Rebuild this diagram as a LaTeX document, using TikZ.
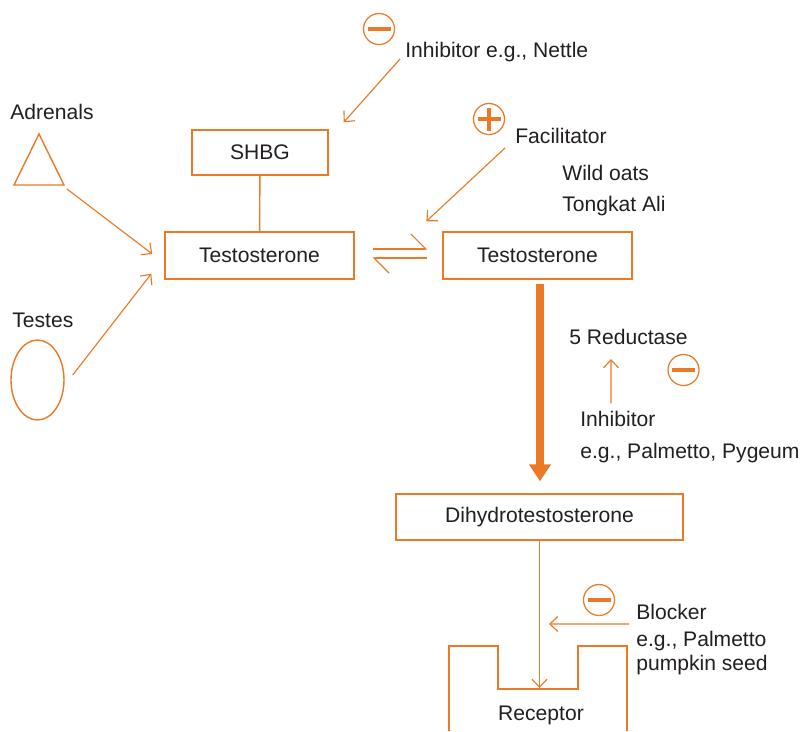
\documentclass[tikz,border=0pt]{standalone}
\usepackage{fontspec}
\setmainfont{Liberation Sans}
\usepackage{tikz}
\usetikzlibrary{arrows.meta,shapes.geometric}
\definecolor{orng}{RGB}{236,121,38}
\definecolor{ink}{RGB}{35,31,32}
\tikzset{
  hbox/.style = {rectangle, draw=orng, line width=0.8pt, text=ink,
    inner sep=0pt, minimum height=0.92cm},% hormone box
  lbl/.style = {anchor=base west, inner sep=0pt, text=ink},% plain label
  sgn/.style = {circle, draw=orng, line width=0.7pt, minimum size=0.62cm,
    inner sep=0pt},% sign circle
  sgn_m/.style = {sgn, path picture={
    \draw[orng, line width=0.08cm]
      ([xshift=-0.23cm]path picture bounding box.center) --
      ([xshift=0.23cm]path picture bounding box.center);}},% minus
  sgn_p/.style = {sgn, path picture={
    \draw[orng, line width=0.08cm]
      ([xshift=-0.23cm]path picture bounding box.center) --
      ([xshift=0.23cm]path picture bounding box.center)
      ([yshift=-0.23cm]path picture bounding box.center) --
      ([yshift=0.23cm]path picture bounding box.center);}},% plus
  conn/.style = {draw=orng, line width=0.65pt},
  arr/.style = {conn, -{Straight Barb[length=0.16cm, width=0.3cm]}},
  harp/.style = {conn, -{Straight Barb[left, length=0.3cm, width=0.6cm]}}
}

\begin{document}
\begin{tikzpicture}[x=0.02cm, y=-0.02cm, font=\fontsize{12}{14}\selectfont]
    \useasboundingbox (0,0) rectangle (800,731);

    % boxes
    \node [hbox, minimum width=2.72cm, minimum height=0.9cm] (shbg) at (260,152.5) {SHBG};
    \node [hbox, minimum width=3.78cm, minimum height=0.94cm] (tl) at (259.5,255.5) {Testosterone};
    \node [hbox, minimum width=3.78cm, minimum height=0.94cm] (tr) at (537.5,255.5) {Testosterone};
    \node [hbox, minimum width=5.74cm] (dht) at (539.5,517) {Dihydrotestosterone};

    % sources
    \node [lbl] (adr_l) at (10,119) {Adrenals};
    \draw [conn, line width=0.8pt] (39,134) -- (64,185) coordinate (adr_r) -- (14,185) -- cycle;
    \node [lbl] (tst_l) at (12,327) {Testes};
    \node [ellipse, draw=orng, line width=0.8pt, minimum width=1.06cm,
      minimum height=1.6cm] (tst) at (37.5,380) {};

    % labels
    \node [sgn_m] (s1) at (379,29) {};
    \node [lbl] (ntl) at (405,57) {Inhibitor e.g., Nettle};
    \node [sgn_p] (s2) at (489,119) {};
    \node [lbl] (fac) at (515,143) {Facilitator};
    \node [lbl] (wld) at (562,180) {Wild oats};
    \node [lbl] (tgk) at (562,211) {Tongkat Ali};
    \node [lbl] (red) at (569,344) {5 Reductase};
    \node [sgn_m] (s3) at (683.5,370) {};
    \node [lbl] (inh) at (580,426) {Inhibitor};
    \node [lbl] (inh_eg) at (580,458) {e.g., Palmetto, Pygeum};
    \node [sgn_m] (s4) at (599,600) {};
    \node [lbl] (blk) at (636,619) {Blocker};
    \node [lbl] (blk_eg) at (636,646) {e.g., Palmetto};
    \node [lbl] (blk_ps) at (636,670) {pumpkin seed};

    % receptor
    \draw [conn, line width=0.8pt] (449,731) |- (498,646) |- (578,689) |- (627,646) -- (627,731);
    \coordinate (rcp_in) at (539.5,688);
    \node [lbl, anchor=base] (rcp) at (541,720) {Receptor};

    % connectors
    \draw [conn, line width=0.8pt] (shbg) -- (tl);
    \draw [arr] ([shift={(-0.1cm,-0.04cm)}]ntl.base west) -- ([shift={(0.3cm,0.14cm)}]shbg.north east);
    \draw [arr] ([shift={(-0.2cm,-0.1cm)}]fac.base west) -- ([shift={(-0.32cm,0.2cm)}]tr.north west);
    \draw [arr] ([shift={(0.06cm,-0.08cm)}]adr_r) -- ([shift={(-0.24cm,0.03cm)}]tl.west);
    \draw [arr] ([shift={(0.16cm,0.1cm)}]tst.east) -- ([shift={(-0.26cm,0.12cm)}]tl.south west);
    \draw [harp, shorten <=0.36cm, shorten >=0.3cm] ([yshift=0.13cm]tl.east) -- ([yshift=0.13cm]tr.west);
    \draw [harp, shorten <=0.3cm, shorten >=0.36cm] ([yshift=-0.05cm]tr.west) -- ([yshift=-0.05cm]tl.east);
    \draw [orng, line width=0.16cm, -{Triangle[length=0.34cm, width=0.42cm]},
      shorten <=0.08cm, shorten >=0.24cm] ([xshift=0.05cm]tr.south) -- ([xshift=0.05cm]tr.south |- dht.north);
    \draw [arr] ([shift={(0.62cm,0.14cm)}]inh.north west) -- ([shift={(0.84cm,-0.3cm)}]red.base west);
    \draw [arr] (dht.south) -- (rcp_in);
    \draw [arr] ([shift={(-0.14cm,-0.1cm)}]blk.base west) -- (549,624) coordinate (blk_tip);
\end{tikzpicture}
\end{document}
